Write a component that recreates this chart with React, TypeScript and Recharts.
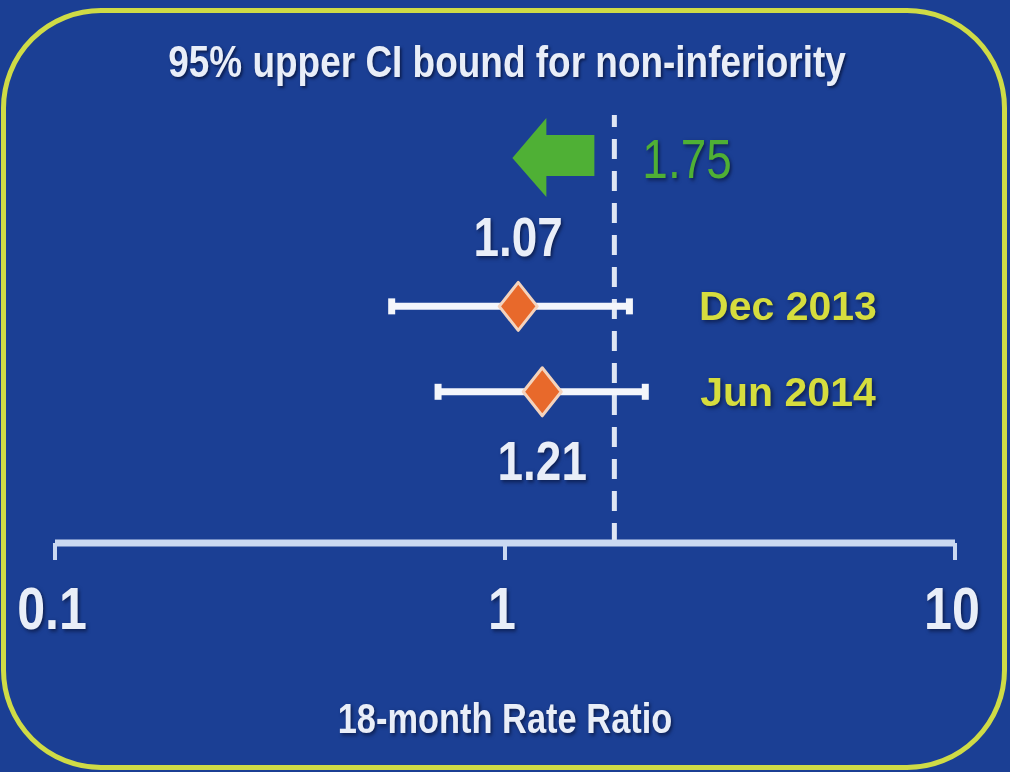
import {
  ScatterChart,
  Scatter,
  XAxis,
  YAxis,
  ErrorBar,
  ReferenceLine,
  Label
} from "recharts";

// survey rows, top to bottom
const surveys = ["Dec 2013", "Jun 2014"];
const rateRatio = [1.07, 1.21];
const ciLower = [0.56, 0.71];
const ciUpper = [1.89, 2.05];
const rowPos = [2, 1];

const nonInfMargin = 1.75;
const xTicks = [0.1, 1, 10];

const rows = surveys.map((s, i) => ({
  survey: s,
  ratio: rateRatio[i],
  row: rowPos[i],
  ci: [rateRatio[i] - ciLower[i], ciUpper[i] - rateRatio[i]]
}));

const BG = "#1b3f94";
const WHITE = "#e9eef8";
const AXIS = "#cbd9f1";
const YELLOW = "#d6dd3e";
const GREEN = "#4fb035";
const ORANGE = "#e8692b";
const FONT = '"Liberation Sans", Arial, sans-serif';
const SQUEEZE = 0.82; // fake a narrow face
const shadow = "drop-shadow(2px 2px 2px rgba(5,15,50,0.7))";

// narrow text, squeezed horizontally around its anchor
function NText(props: any) {
  const { x, y, squeeze = SQUEEZE, children, ...rest } = props;
  return (
    <text
      transform={`translate(${x},${y}) scale(${squeeze},1)`}
      x={0}
      y={0}
      fontFamily={FONT}
      style={{ filter: shadow }}
      {...rest}
    >
      {children}
    </text>
  );
}

function Diamond(props: any) {
  const { cx, cy, payload } = props;
  const above = payload.row === Math.max(...rowPos);
  return (
    <g>
      <polygon
        points={`${cx},${cy - 24} ${cx + 19},${cy} ${cx},${cy + 24} ${cx - 19},${cy}`}
        fill={ORANGE}
        stroke="#f4d3bd"
        strokeWidth={3}
        strokeLinejoin="round"
      />
      <NText
        x={cx}
        y={above ? cy - 50 : cy + 88}
        textAnchor="middle"
        fill={WHITE}
        fontWeight="bold"
        fontSize={56}
      >
        {payload.ratio.toFixed(2)}
      </NText>
    </g>
  );
}

function MarginLabel(props: any) {
  const { viewBox } = props;
  const x = viewBox.x;
  const t = viewBox.y;
  const pts = [
    [x - 102, t + 43],
    [x - 68, t + 3],
    [x - 68, t + 20],
    [x - 20, t + 20],
    [x - 20, t + 61],
    [x - 68, t + 61],
    [x - 68, t + 82]
  ]
    .map((p) => p.join(","))
    .join(" ");
  return (
    <g>
      <polygon points={pts} fill={GREEN} />
      <NText x={x + 28} y={t + 63} fill={GREEN} fontSize={56}>
        {nonInfMargin}
      </NText>
    </g>
  );
}

function XTick(props: any) {
  const { x, y, payload } = props;
  return (
    <NText
      x={x - 3}
      y={y + 67}
      squeeze={0.85}
      textAnchor="middle"
      fill={WHITE}
      fontWeight="bold"
      fontSize={59}
    >
      {payload.value}
    </NText>
  );
}

function RowTick(props: any) {
  const { y, payload } = props;
  const r = rows.find((d) => d.row === payload.value);
  return (
    <text
      x={788}
      y={y}
      dy={14}
      textAnchor="middle"
      fill={YELLOW}
      fontFamily={FONT}
      fontWeight="bold"
      fontSize={41}
      style={{ filter: shadow }}
    >
      {r ? r.survey : ""}
    </text>
  );
}

function AxisTitle(props: any) {
  const { viewBox } = props;
  return (
    <NText
      x={viewBox.x + viewBox.width / 2}
      y={viewBox.y + 190}
      textAnchor="middle"
      fill={WHITE}
      fontWeight="bold"
      fontSize={42}
    >
      18-month Rate Ratio
    </NText>
  );
}

export default function App() {
  return (
    <div
      style={{
        position: "absolute",
        left: 0,
        top: 0,
        width: 1010,
        height: 772,
        background: BG,
        overflow: "hidden"
      }}
    >
      <div
        style={{
          position: "absolute",
          boxSizing: "border-box",
          left: 1,
          top: 8,
          width: 1006,
          height: 762,
          border: "5px solid #cfdb46",
          borderRadius: 100
        }}
      />
      <div
        style={{
          position: "absolute",
          left: 0,
          top: 39,
          width: 1014,
          textAlign: "center",
          color: WHITE,
          fontFamily: FONT,
          fontWeight: "bold",
          fontSize: 44,
          lineHeight: "46px",
          transform: "scaleX(0.84)",
          textShadow: "2px 2px 3px rgba(5,15,50,0.7)"
        }}
      >
        95% upper CI bound for non-inferiority
      </div>
      <div style={{ position: "absolute", left: 0, top: 0 }}>
        <ScatterChart
          width={1010}
          height={772}
          data={rows}
          margin={{ top: 115, right: 0, bottom: 0, left: 55 }}
        >
          <XAxis
            dataKey="ratio"
            type="number"
            scale="log"
            domain={[0.1, 10]}
            ticks={xTicks}
            allowDataOverflow
            height={229}
            axisLine={{ stroke: AXIS, strokeWidth: 7 }}
            tickLine={{ stroke: AXIS, strokeWidth: 4 }}
            tickSize={17}
            tick={<XTick />}
          >
            <Label content={<AxisTitle />} />
          </XAxis>
          <YAxis
            dataKey="row"
            type="number"
            orientation="right"
            domain={[-0.77, 4.24]}
            ticks={rowPos}
            allowDataOverflow
            width={55}
            axisLine={false}
            tickLine={false}
            tick={<RowTick />}
          />
          <ReferenceLine
            x={nonInfMargin}
            stroke="#dfe6f4"
            strokeWidth={5}
            strokeDasharray="20 12"
            label={<MarginLabel />}
          />
          <Scatter
            data={rows}
            shape={<Diamond />}
            isAnimationActive={false}
          >
            <ErrorBar
              dataKey="ci"
              direction="x"
              width={8}
              stroke="#f4f6fb"
              strokeWidth={7}
            />
          </Scatter>
        </ScatterChart>
      </div>
    </div>
  );
}
